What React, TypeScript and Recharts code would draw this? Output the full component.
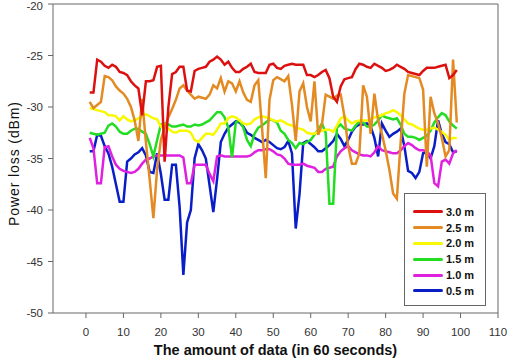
import { LineChart, Line, XAxis, YAxis, Legend, ReferenceLine } from "recharts";

// sample index (one reading per 60 s)
const xs = Array.from({ length: 99 }, (_, i) => i + 1);
const xTicks = [0, 10, 20, 30, 40, 50, 60, 70, 80, 90, 100, 110];
const yTicks = [-50, -45, -40, -35, -30, -25, -20];

const d30 = [
  -28.6, -28.6, -25.4, -25.6, -26.0, -26.2, -25.9, -26.1, -26.6, -26.7,
  -26.9, -27.5, -27.9, -28.2, -30.8, -27.5, -27.5, -27.4, -26.1, -26.0,
  -35.3, -30.0, -26.8, -26.6, -26.1, -26.1, -28.4, -28.5, -26.5, -26.3,
  -26.2, -26.1, -25.6, -25.4, -25.1, -25.4, -25.9, -25.6, -26.2, -26.6,
  -26.6, -26.3, -26.1, -25.8, -26.6, -26.7, -26.7, -26.7, -25.9, -25.8,
  -26.2, -26.3, -26.0, -25.9, -25.8, -25.9, -25.9, -25.9, -26.9, -26.9,
  -27.1, -26.9, -26.6, -26.4, -27.2, -29.0, -29.5, -28.0, -27.3, -27.2,
  -27.1, -26.3, -25.8, -25.9, -26.1, -26.2, -25.8, -26.0, -26.2, -26.5,
  -26.4, -26.2, -25.9, -26.1, -26.3, -26.6, -26.7, -26.8, -26.9, -26.5,
  -26.2, -26.2, -26.2, -26.1, -26.0, -25.9, -27.2, -26.9, -26.4,
];
const d25 = [
  -29.5, -30.1, -29.8, -29.5, -27.0, -27.1, -27.4, -28.0, -28.4, -28.7,
  -29.2, -30.0, -31.3, -33.3, -29.2, -33.4, -37.0, -40.8, -36.0, -33.2,
  -32.0, -31.0, -30.2, -29.3, -28.2, -27.9, -28.4, -28.8, -29.2, -29.0,
  -29.1, -29.2, -28.8, -27.9, -28.2, -27.2, -28.5, -27.5, -27.7, -28.5,
  -27.5, -28.6, -29.3, -29.5, -27.9, -27.4, -32.0, -36.9, -29.3, -27.4,
  -27.1, -27.3, -27.5, -27.0, -29.8, -33.3, -28.5, -27.7, -30.0, -31.4,
  -27.5, -32.7, -31.7, -28.8, -29.0, -29.2, -28.9, -28.8, -30.9, -33.8,
  -35.5, -35.5, -34.5, -27.9, -29.0, -32.6, -28.7, -31.3, -32.6, -34.2,
  -36.1, -38.4, -38.9, -33.5, -28.7, -26.9, -27.0, -27.1, -27.2, -28.3,
  -35.8, -29.0, -30.6, -31.6, -33.0, -34.8, -34.2, -25.4, -31.5,
];
const d20 = [
  -30.1, -30.2, -30.3, -30.4, -30.5, -30.8, -30.8, -30.9, -31.3, -30.9,
  -31.2, -31.4, -31.3, -31.1, -30.9, -30.7, -30.9, -31.1, -31.2, -31.9,
  -31.7, -32.1, -32.4, -32.5, -32.3, -32.3, -32.3, -32.5, -33.2, -33.4,
  -33.0, -32.6, -32.6, -32.7, -32.2, -31.6, -31.6, -31.1, -30.9, -31.0,
  -31.3, -31.6, -31.7, -31.6, -31.2, -31.0, -30.9, -31.0, -31.1, -31.3,
  -31.4, -31.3, -31.5, -31.7, -31.8, -32.0, -32.1, -32.2, -32.5, -32.6,
  -32.6, -32.4, -32.3, -32.2, -32.2, -32.4, -31.8, -31.1, -30.9, -31.3,
  -31.6, -31.4, -31.3, -31.3, -31.3, -31.2, -31.0, -30.9, -30.8, -30.6,
  -30.5, -30.3, -30.5, -30.8, -31.2, -31.6, -31.7, -31.9, -32.1, -32.2,
  -32.2, -32.1, -32.0, -32.2, -32.4, -32.7, -33.2, -33.0, -33.0,
];
const d15 = [
  -32.5, -32.6, -32.7, -32.6, -32.5, -31.8, -31.6, -31.9, -32.4, -32.6,
  -32.6, -32.3, -32.1, -32.1, -32.4, -32.6, -33.6, -34.8, -33.2, -31.7,
  -31.6, -31.7, -31.9, -31.9, -31.8, -31.7, -31.9, -31.9, -31.7, -31.8,
  -31.7, -31.5, -31.3, -30.9, -30.5, -30.5, -31.0, -32.0, -34.9, -31.5,
  -31.3, -32.0, -33.2, -33.8, -32.6, -32.0, -31.8, -31.5, -31.2, -31.3,
  -31.5, -32.3, -32.6, -33.2, -33.5, -34.0, -33.5, -33.6, -33.4, -33.2,
  -32.7, -32.2, -31.6, -32.5, -39.4, -39.4, -32.0, -31.7, -32.1, -32.2,
  -32.3, -31.8, -31.4, -31.5, -31.9, -31.9, -31.7, -31.3, -30.8, -31.0,
  -31.1, -31.2, -31.1, -31.7, -32.6, -32.9, -32.9, -33.0, -33.2, -33.0,
  -32.8, -32.3, -31.5, -31.0, -30.6, -30.8, -31.4, -31.8, -32.1,
];
const d10 = [
  -33.0, -34.0, -37.4, -37.4, -33.9, -33.8, -34.8, -35.6, -36.0, -36.2,
  -36.3, -36.4, -36.3, -36.0, -35.5, -35.1, -35.0, -34.8, -34.7, -34.7,
  -34.7, -34.7, -34.7, -34.7, -34.7, -34.9, -37.4, -37.4, -35.6, -35.6,
  -35.6, -35.6, -36.5, -37.2, -34.8, -34.7, -34.8, -34.8, -34.8, -34.8,
  -34.8, -34.8, -34.8, -34.7, -34.4, -34.2, -34.2, -34.1, -34.1, -34.3,
  -34.6, -34.7, -35.0, -35.5, -35.6, -35.6, -35.6, -35.5, -35.7, -35.8,
  -35.9, -36.3, -36.3, -36.0, -35.9, -35.8, -34.8, -34.3, -34.0, -33.8,
  -34.2, -34.4, -34.6, -34.7, -34.7, -34.8, -34.4, -33.8, -34.2, -34.3,
  -34.4, -34.5, -34.5, -34.2, -33.8, -33.5, -33.7, -34.0, -34.2, -34.2,
  -34.3, -34.7, -37.4, -37.7, -35.3, -35.1, -35.5, -34.5, -34.2,
];
const d05 = [
  -34.3, -34.3, -32.7, -32.8, -33.8, -34.5, -35.8, -37.5, -39.2, -39.2,
  -35.3, -35.0, -34.6, -34.4, -34.0, -34.7, -36.3, -36.4, -34.5, -36.5,
  -39.0, -39.0, -35.6, -35.6, -39.7, -46.3, -41.2, -40.0, -35.0, -33.6,
  -34.2, -35.0, -37.6, -40.2, -37.0, -33.4, -32.6, -32.0, -31.7, -31.4,
  -31.5, -31.9, -32.5, -32.7, -33.0, -33.2, -33.4, -33.2, -33.4, -33.7,
  -34.0, -34.1, -33.9, -33.3, -34.5, -41.8, -38.5, -33.5, -33.3, -33.6,
  -33.9, -34.3, -34.3, -34.0, -33.7, -33.3, -32.6, -33.1, -33.8, -33.2,
  -32.4, -31.9, -31.7, -31.7, -31.6, -31.9, -33.0, -34.8, -31.6, -32.3,
  -32.9, -32.6, -32.4, -32.1, -33.8, -36.2, -36.4, -36.9, -36.3, -34.5,
  -34.4, -35.0, -33.8, -31.3, -32.6, -33.4, -33.6, -34.4, -34.3,
];

const series = [
  { key: "d05", name: "0.5 m", color: "#0a1ec8", values: d05 },
  { key: "d10", name: "1.0 m", color: "#e020e0", values: d10 },
  { key: "d15", name: "1.5 m", color: "#22dd22", values: d15 },
  { key: "d20", name: "2.0 m", color: "#f8f800", values: d20 },
  { key: "d25", name: "2.5 m", color: "#e48a22", values: d25 },
  { key: "d30", name: "3.0 m", color: "#dd1010", values: d30 },
];

const data = xs.map((x, i) => {
  const row: Record<string, number> = { x };
  series.forEach((s) => (row[s.key] = s.values[i]));
  return row;
});

const font = "Arial, 'Liberation Sans', sans-serif";
const axisColor = "#666";

function LegendBox() {
  const items = [...series].reverse();
  return (
    <div
      style={{
        border: "1px solid #666",
        background: "#fff",
        padding: "10px 8px 6px 8px",
        fontFamily: font,
        boxSizing: "border-box",
        width: 82,
      }}
    >
      {items.map((s) => (
        <div key={s.key} style={{ display: "flex", alignItems: "center", height: 15.8 }}>
          <div style={{ width: 30, height: 3, background: s.color, borderRadius: 2, marginRight: 3 }} />
          <span style={{ fontSize: 11, fontWeight: "bold", color: "#111" }}>{s.name}</span>
        </div>
      ))}
    </div>
  );
}

export default function App() {
  return (
    <div style={{ position: "absolute", left: 0, top: 0, background: "#fff" }}>
      <LineChart width={508} height={359} data={data} margin={{ top: 4, right: 10, bottom: 0, left: 0 }}>
        <XAxis
          dataKey="x"
          type="number"
          domain={[-8.8, 110]}
          ticks={xTicks}
          allowDataOverflow
          height={46}
          stroke={axisColor}
          tickSize={5}
          tickMargin={10}
          tick={{ fontSize: 11.5, fill: "#333", fontFamily: font }}
          label={{
            value: "The amount of data (in 60 seconds)",
            position: "insideBottom",
            offset: 4,
            style: { fontSize: 14.5, fontWeight: "bold", fill: "#111", fontFamily: font },
          }}
        />
        <YAxis
          type="number"
          domain={[-50, -20]}
          ticks={yTicks}
          width={53}
          stroke={axisColor}
          tickSize={5}
          tickMargin={5}
          tick={{ fontSize: 11.5, fill: "#333", fontFamily: font }}
          label={{
            value: "Power loss (dBm)",
            angle: -90,
            position: "insideLeft",
            offset: 14,
            dy: 5,
            style: { textAnchor: "middle", fontSize: 14, fill: "#111", fontFamily: font, letterSpacing: 0.9 },
          }}
        />
        <ReferenceLine y={-20} stroke={axisColor} />
        <ReferenceLine x={110} stroke={axisColor} />
        <Legend
          layout="vertical"
          align="center"
          verticalAlign="middle"
          content={() => <LegendBox />}
          wrapperStyle={{ left: 404, top: 193, width: 82 }}
        />
        {series.map((s) => (
          <Line
            key={s.key}
            dataKey={s.key}
            name={s.name}
            type="linear"
            stroke={s.color}
            strokeWidth={2.5}
            dot={false}
            isAnimationActive={false}
          />
        ))}
      </LineChart>
    </div>
  );
}
